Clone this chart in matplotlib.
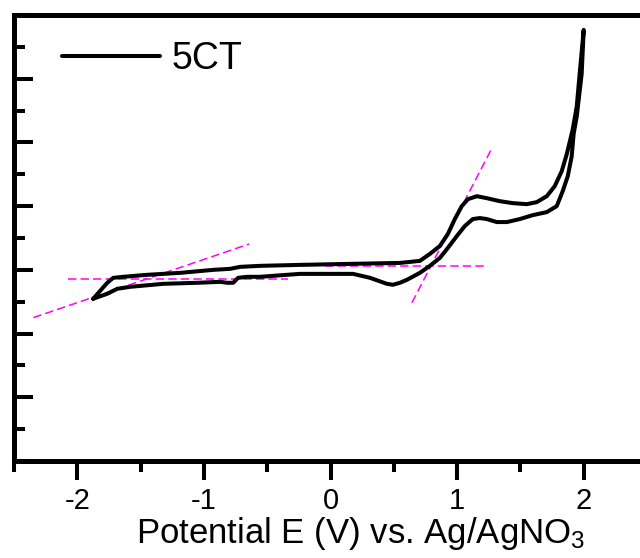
import matplotlib
matplotlib.use("Agg")
import matplotlib.pyplot as plt
from matplotlib.ticker import MultipleLocator, NullFormatter

plt.rcParams['font.family'] = ['Liberation Sans', 'DejaVu Sans']
plt.rcParams['mathtext.default'] = 'regular'
plt.rcParams['axes.unicode_minus'] = False

# CV loop: upper branch left->right, then return branch right->left
upper_E = [-1.874, -1.819, -1.763, -1.716, -1.637, -1.448, -1.187, -0.927,
           -0.793, -0.714, -0.556, -0.241, 0.154, 0.548, 0.627, 0.706, 0.785,
           0.864, 0.927, 0.982, 1.037, 1.085, 1.156, 1.235, 1.337, 1.440,
           1.550, 1.629, 1.708, 1.771, 1.826, 1.866, 1.913, 1.945, 1.968, 2.000]
upper_I = [-0.453, -0.328, -0.203, -0.125, -0.109, -0.078, -0.047, 0.000,
           0.016, 0.047, 0.063, 0.078, 0.094, 0.109, 0.125, 0.141, 0.250,
           0.375, 0.563, 0.797, 1.000, 1.109, 1.156, 1.125, 1.078, 1.047,
           1.031, 1.063, 1.156, 1.313, 1.547, 1.813, 2.203, 2.563, 3.078, 3.766]
lower_E = [2.000, 1.984, 1.945, 1.921, 1.905, 1.874, 1.834, 1.787, 1.708,
           1.598, 1.495, 1.393, 1.314, 1.235, 1.180, 1.124, 1.061, 0.998,
           0.927, 0.864, 0.785, 0.706, 0.604, 0.548, 0.493, 0.445, 0.312,
           0.178, -0.241, -0.556, -0.659, -0.730, -0.769, -0.817, -0.872,
           -1.053, -1.321, -1.582, -1.684, -1.763, -1.874]
lower_I = [3.766, 3.078, 2.406, 2.141, 1.781, 1.469, 1.234, 1.000, 0.906,
           0.859, 0.797, 0.750, 0.750, 0.797, 0.813, 0.797, 0.688, 0.531,
           0.344, 0.188, 0.063, -0.047, -0.156, -0.203, -0.234, -0.219, -0.125,
           -0.063, -0.063, -0.109, -0.109, -0.125, -0.203, -0.203, -0.188,
           -0.203, -0.219, -0.266, -0.297, -0.375, -0.453]

# onset tangent lines (start/end points)
tangents = [
    ([-2.071, -0.335], [-0.141, -0.141]),
    ([-2.347, -0.643], [-0.750, 0.406]),
    ([-0.043, 1.243], [0.055, 0.055]),
    ([0.643, 1.274], [-0.516, 1.906]),
]

fig = plt.figure(figsize=(6.4, 5.58), dpi=100)
ax = fig.add_axes([14 / 640, 97 / 558, 633 / 640, 446 / 558])

for xs, ys in tangents:
    ax.plot(xs, ys, color='#FF00FF', lw=1.1, dashes=(5.5, 2.7))

ax.plot(upper_E + lower_E[1:], upper_I + lower_I[1:], color='black', lw=2.9,
        solid_joinstyle='round', solid_capstyle='round', label='5CT')

ax.set_xlim(-2.5, 2.5)
ax.set_ylim(-3, 4)
ax.xaxis.set_major_locator(MultipleLocator(1))
ax.xaxis.set_minor_locator(MultipleLocator(0.5))
ax.yaxis.set_major_locator(MultipleLocator(1))
ax.yaxis.set_minor_locator(MultipleLocator(0.5))
ax.yaxis.set_major_formatter(NullFormatter())

for s in ax.spines.values():
    s.set_linewidth(3.6)

ax.tick_params(axis='x', which='major', direction='out', length=13.7, width=2.9,
               labelsize=21, pad=5)
ax.tick_params(axis='x', which='minor', direction='out', length=8, width=2.9)
ax.tick_params(axis='y', which='major', direction='in', length=13.7, width=2.9)
ax.tick_params(axis='y', which='minor', direction='in', length=8, width=2.9)

ax.set_xlabel('Potential E (V) vs. Ag/AgNO$_3$', fontsize=25)
ax.xaxis.label.set_va('baseline')
ax.xaxis.set_label_coords(0.548, -0.184)

ax.legend(loc='center left', bbox_to_anchor=(0.076, 0.902), frameon=False,
          fontsize=27, handlelength=2.6, handletextpad=0.32, borderpad=0,
          borderaxespad=0)

fig.savefig('out.png', dpi=100)
